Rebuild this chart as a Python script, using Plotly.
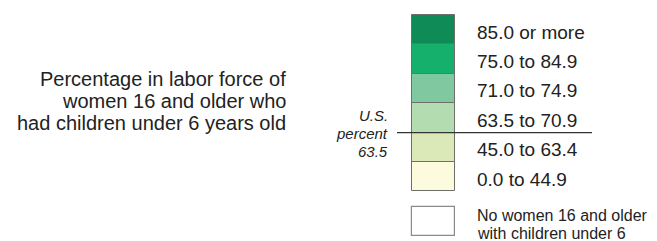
import plotly.graph_objects as go

# Legend data
class_labels = ["85.0 or more", "75.0 to 84.9", "71.0 to 74.9",
                "63.5 to 70.9", "45.0 to 63.4", "0.0 to 44.9"]
class_colors = ["#0f8b57", "#14b06c", "#7fc8a0", "#b3dcb1", "#dbe9b8", "#fdfbdd"]
nodata_lines = ["No women 16 and older", "with children under 6"]
title_lines = ["Percentage in labor force of", "women 16 and older who",
               "had children under 6 years old"]
us_label = ["U.S.", "percent", "63.5"]
us_break_index = 4  # line drawn between class 3 and class 4 (63.5)

W, H = 657, 241
OFF = 8  # page body margin
top = 15.0
step = 29.4
box_x0, box_x1 = 412, 455
box_w = box_x1 - box_x0
box_xc = (box_x0 + box_x1) / 2
FONT = "Liberation Sans, Arial, Helvetica"

fig = go.Figure()
bases = [top + i * step for i in range(len(class_labels))]
fig.add_trace(go.Bar(
    x=[box_xc] * len(class_labels), y=[step] * len(class_labels), base=bases,
    width=box_w, marker=dict(color=class_colors, line=dict(color="#6f6f6a", width=1)),
    hoverinfo="skip", showlegend=False))
# no-data box
nd_top = 207
fig.add_trace(go.Bar(
    x=[box_xc - 0.5], y=[29], base=[nd_top], width=box_w,
    marker=dict(color="white", line=dict(color="#8a8a8a", width=1.2)),
    hoverinfo="skip", showlegend=False))

# US line
line_y = top + us_break_index * step
fig.add_trace(go.Scatter(x=[397, 592], y=[line_y, line_y], mode="lines",
                         line=dict(color="#333333", width=1.2),
                         hoverinfo="skip", showlegend=False))

ann = []
for i, lab in enumerate(class_labels):
    ann.append(dict(x=475, y=bases[i] + step / 2 + 2.3, text=lab, xanchor="left",
                    yanchor="middle", showarrow=False,
                    font=dict(family=FONT, size=19, color="#222")))
for j, t in enumerate(nodata_lines):
    ann.append(dict(x=475, y=215.5 + j * 18, text=t, xanchor="left",
                    yanchor="middle", showarrow=False,
                    font=dict(family=FONT, size=16, color="#222")))
for j, t in enumerate(title_lines):
    ann.append(dict(x=288, y=78.5 + j * 22, text=t, xanchor="right", yanchor="middle",
                    showarrow=False,
                    font=dict(family=FONT, size=20, color="#222")))
for j, t in enumerate(us_label):
    ann.append(dict(x=390, y=115 + j * 18, text="<i>" + t + "</i>", xanchor="right",
                    yanchor="middle", showarrow=False,
                    font=dict(family=FONT, size=15, color="#222")))

fig.update_layout(
    width=W - OFF, height=H - OFF, margin=dict(l=0, r=0, t=0, b=0),
    paper_bgcolor="white", plot_bgcolor="white",
    xaxis=dict(range=[OFF, W], visible=False, fixedrange=True),
    yaxis=dict(range=[H, OFF], visible=False, fixedrange=True),
    annotations=ann, barmode="overlay", bargap=0)

fig.write_html("out.html")
